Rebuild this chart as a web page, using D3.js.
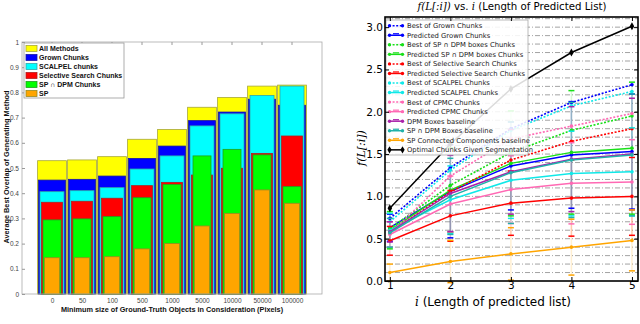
<!DOCTYPE html>
<html lang="en">
<head>
<meta charset="UTF-8">
<title>Chunk overlap / f(L[:i])</title>
<script src="https://d3js.org/d3.v7.min.js"></script>
<style>
    body { margin: 0; background: #fff; }
    svg { display: block; }
    .lft { font-family: 'Liberation Sans', Arial, sans-serif; }
    .mpl { font-family: 'DejaVu Sans', sans-serif; }
    .math { font-family: 'DejaVu Serif', serif; font-style: italic; }
</style>
</head>
<body>
<svg id="chart" width="640" height="324"></svg>
<script>
    // ---------- left chart data (bar groups) ----------
    const sizeLabels = ["0", "50", "100", "500", "1000", "5000", "10000", "50000", "100000"];
    const allMethods = [0.529, 0.532, 0.545, 0.614, 0.653, 0.741, 0.780, 0.825, 0.829];
    const grownChunks = [0.452, 0.455, 0.468, 0.538, 0.587, 0.688, 0.722, 0.773, 0.749];
    const scalpelChunks = [0.406, 0.410, 0.422, 0.496, 0.548, 0.667, 0.715, 0.788, 0.825];
    const selSearchChunks = [0.364, 0.368, 0.380, 0.430, 0.443, 0.472, 0.499, 0.558, 0.627];
    const spDpmChunks = [0.294, 0.298, 0.307, 0.382, 0.435, 0.548, 0.574, 0.552, 0.426];
    const spChunks = [0.144, 0.144, 0.148, 0.179, 0.200, 0.270, 0.320, 0.413, 0.360];
    const barNames = ["All Methods", "Grown Chunks", "SCALPEL chunks", "Selective Search Chunks", "SP \u2229 DPM Chunks", "SP"];
    const leftYTicks = [0, 0.1, 0.2, 0.3, 0.4, 0.5, 0.6, 0.7, 0.8, 0.9, 1];

    // ---------- right chart data (lines) ----------
    const listLength = [1, 2, 3, 4, 5];
    const bestGrown = [0.74, 1.34, 1.80, 2.11, 2.32];
    const predGrown = [0.63, 1.06, 1.36, 1.49, 1.53];
    const errGrown = [0.16, 0.55, 0.52, 0.63, 0.68];
    const bestSpDpm = [0.62, 1.13, 1.52, 1.78, 1.95];
    const predSpDpm = [0.60, 1.075, 1.39, 1.52, 1.57];
    const errSpDpm = [0.22, 0.50, 0.62, 0.73, 0.78];
    const bestSelSearch = [0.58, 1.05, 1.43, 1.65, 1.80];
    const predSelSearch = [0.475, 0.77, 0.92, 0.98, 1.00];
    const errSelSearch = [0.17, 0.30, 0.38, 0.45, 0.46];
    const bestScalpel = [0.70, 1.31, 1.78, 2.07, 2.24];
    const predScalpel = [0.60, 0.96, 1.19, 1.27, 1.29];
    const errScalpel = [0.20, 0.40, 0.45, 0.50, 0.52];
    const bestCpmc = [0.56, 1.24, 1.68, 1.83, 1.98];
    const predCpmc = [0.55, 0.91, 1.08, 1.155, 1.17];
    const errCpmc = [0.15, 0.33, 0.40, 0.48, 0.50];
    const dpmBaseline = [0.58, 1.035, 1.29, 1.44, 1.50];
    const errDpm = [0.12, 0.45, 0.50, 0.62, 0.66];
    const spDpmBaseline = [0.57, 1.00, 1.28, 1.43, 1.49];
    const errSpDpmBase = [0.17, 0.45, 0.60, 0.68, 0.72];
    const spCcBaseline = [0.10, 0.23, 0.32, 0.40, 0.48];
    const errSpCc = [0.10, 0.25, 0.31, 0.33, 0.36];
    const optimalChunks = [0.86, 1.62, 2.27, 2.70, 3.01];
    const rightYTicks = [0, 0.5, 1, 1.5, 2, 2.5, 3];

    const svg = d3.select("#chart");

    // =====================================================
    // Left: overlapping bars
    // =====================================================
    const xL = d3.scaleLinear().domain([0, 10]).range([22, 322]);
    const yL = d3.scaleLinear().domain([0, 1]).range([294, 42]);

    const barColors = ["#ffff00", "#0000ff", "#00ffff", "#ff0000", "#00ff00", "#ffa500"];
    const barEdges = ["#a8a838", "#1818a0", "#30a8a8", "#b02020", "#20a020", "#9a8a20"];
    const barWidths = [0.96, 0.9, 0.8, 0.7, 0.6, 0.5];
    const barValues = [allMethods, grownChunks, scalpelChunks, selSearchChunks, spDpmChunks, spChunks];

    const left = svg.append("g").attr("class", "lft");

    barValues.forEach((vals, s) => {
        left.append("g").selectAll("rect")
            .data(vals)
            .join("rect")
            .attr("x", (d, i) => xL(i + 1 - barWidths[s] / 2))
            .attr("y", d => yL(d))
            .attr("width", xL(barWidths[s]) - xL(0))
            .attr("height", d => yL(0) - yL(d))
            .attr("fill", barColors[s])
            .attr("stroke", barEdges[s])
            .attr("stroke-width", 0.8);
    });

    // box + ticks
    left.append("rect")
        .attr("x", xL(0)).attr("y", yL(1))
        .attr("width", xL(10) - xL(0)).attr("height", yL(0) - yL(1))
        .attr("fill", "none").attr("stroke", "#aaa").attr("stroke-width", 0.8);

    const yAxisL = d3.axisLeft(yL).tickValues(leftYTicks).tickSize(-3).tickPadding(3)
        .tickFormat(d => d === 0 || d === 1 ? d3.format("d")(d) : d3.format(".1f")(d));
    left.append("g")
        .attr("transform", `translate(${xL(0)},0)`)
        .call(yAxisL)
        .call(g => g.select(".domain").remove())
        .call(g => g.selectAll("line").attr("stroke", "#999"))
        .call(g => g.selectAll("text").attr("font-size", 6.5).attr("fill", "#444"));

    const xAxisL = d3.axisBottom(xL).tickValues(d3.range(1, 10)).tickSize(0).tickPadding(4)
        .tickFormat((d, i) => sizeLabels[i]);
    left.append("g")
        .attr("transform", `translate(0,${yL(0)})`)
        .call(xAxisL)
        .call(g => g.select(".domain").remove())
        .call(g => g.selectAll("text").attr("font-size", 6.5).attr("fill", "#444"));

    // top tick marks
    left.append("g").selectAll("line")
        .data(d3.range(1, 10))
        .join("line")
        .attr("x1", d => xL(d)).attr("x2", d => xL(d))
        .attr("y1", yL(1)).attr("y2", yL(1) + 3)
        .attr("stroke", "#999");

    left.append("text")
        .attr("x", 172).attr("y", 312)
        .attr("text-anchor", "middle")
        .attr("font-size", 7.3).attr("font-weight", "bold").attr("fill", "#111")
        .text("Minimum size of Ground-Truth Objects in Consideration (Pixels)");

    left.append("text")
        .attr("transform", "translate(9,167) rotate(-90)")
        .attr("text-anchor", "middle")
        .attr("font-size", 7.3).attr("font-weight", "bold").attr("fill", "#111")
        .text("Average Best Overlap of Generating Method");

    // legend
    const legL = left.append("g");
    legL.append("rect")
        .attr("x", 24).attr("y", 43).attr("width", 100).attr("height", 55)
        .attr("fill", "#fff").attr("stroke", "#999").attr("stroke-width", 0.8);
    barNames.forEach((name, i) => {
        const cy = 48.5 + i * 9;
        legL.append("rect")
            .attr("x", 26).attr("y", cy - 3).attr("width", 11).attr("height", 6)
            .attr("fill", barColors[i]).attr("stroke", barEdges[i]).attr("stroke-width", 0.8);
        legL.append("text")
            .attr("x", 39).attr("y", cy + 2.5)
            .attr("font-size", 7).attr("font-weight", "bold").attr("fill", "#111")
            .text(name);
    });

    // =====================================================
    // Right: f(L[:i]) lines
    // =====================================================
    const xR = d3.scaleLinear().domain([0.92, 5.1]).range([385, 638]);
    const yR = d3.scaleLinear().domain([0, 3.12]).range([281, 17]);

    const C = {
        blue: "#0000ff", green: "#18e018", red: "#ff0000", cyan: "#10e8e8",
        pink: "#ff69b4", purple: "#aa22aa", teal: "#20b2aa", orange: "#ffa500", black: "#000"
    };

    const seriesR = [
        { name: "Best of Grown Chunks", values: bestGrown, color: C.blue, dotted: true },
        { name: "Predicted Grown Chunks", values: predGrown, err: errGrown, color: C.blue },
        { name: "Best of SP \u2229 DPM boxes Chunks", values: bestSpDpm, color: C.green, dotted: true },
        { name: "Predicted SP \u2229 DPM boxes Chunks", values: predSpDpm, err: errSpDpm, color: C.green },
        { name: "Best of Selective Search Chunks", values: bestSelSearch, color: C.red, dotted: true },
        { name: "Predicted Selective Search Chunks", values: predSelSearch, err: errSelSearch, color: C.red },
        { name: "Best of SCALPEL Chunks", values: bestScalpel, color: C.cyan, dotted: true },
        { name: "Predicted SCALPEL Chunks", values: predScalpel, err: errScalpel, color: C.cyan },
        { name: "Best of CPMC Chunks", values: bestCpmc, color: C.pink, dotted: true },
        { name: "Predicted CPMC Chunks", values: predCpmc, err: errCpmc, color: C.pink },
        { name: "DPM Boxes baseline", values: dpmBaseline, err: errDpm, color: C.purple },
        { name: "SP \u2229 DPM Boxes baseline", values: spDpmBaseline, err: errSpDpmBase, color: C.teal },
        { name: "SP Connected Components baseline", values: spCcBaseline, err: errSpCc, color: C.orange },
        { name: "Optimal Chunks Given Segmentation", values: optimalChunks, color: C.black, diamond: true }
    ];

    const right = svg.append("g").attr("class", "mpl");

    // dash-dot grid every 0.1
    right.append("g").selectAll("line")
        .data(d3.range(1, 32).map(d => d / 10))
        .join("line")
        .attr("x1", xR.range()[0]).attr("x2", xR.range()[1])
        .attr("y1", d => yR(d)).attr("y2", d => yR(d))
        .attr("stroke", "#999").attr("stroke-width", 0.9)
        .attr("stroke-dasharray", "5,2,1,2");

    // error bar stems (faint)
    seriesR.filter(s => s.err).forEach(s => {
        right.append("g").selectAll("line")
            .data(listLength)
            .join("line")
            .attr("x1", d => xR(d)).attr("x2", d => xR(d))
            .attr("y1", (d, i) => yR(Math.max(0, s.values[i] - s.err[i])))
            .attr("y2", (d, i) => yR(s.values[i] + s.err[i]))
            .attr("stroke", s.color).attr("stroke-opacity", 0.18).attr("stroke-width", 1.5);
    });

    const line = d3.line().x((d, i) => xR(listLength[i])).y(d => yR(d));

    seriesR.forEach(s => {
        const g = right.append("g");
        g.append("path")
            .attr("d", line(s.values))
            .attr("fill", "none")
            .attr("stroke", s.color)
            .attr("stroke-width", s.dotted ? 1.6 : 1.5)
            .attr("stroke-dasharray", s.dotted ? "2,1.6" : null);

        if (s.err) {
            // caps
            const caps = [];
            s.values.forEach((v, i) => {
                caps.push([listLength[i], v - s.err[i]]);
                caps.push([listLength[i], v + s.err[i]]);
            });
            g.selectAll(".cap")
                .data(caps)
                .join("line")
                .attr("x1", d => xR(d[0]) - 3).attr("x2", d => xR(d[0]) + 3)
                .attr("y1", d => yR(d[1])).attr("y2", d => yR(d[1]))
                .attr("stroke", s.color).attr("stroke-width", 1.5);
        }

        if (s.diamond) {
            g.selectAll("path.mk")
                .data(s.values)
                .join("path")
                .attr("class", "mk")
                .attr("d", d3.symbol(d3.symbolDiamond, 18))
                .attr("transform", (d, i) => `translate(${xR(listLength[i])},${yR(d)})`)
                .attr("fill", s.color);
        } else {
            g.selectAll("circle")
                .data(s.values)
                .join("circle")
                .attr("cx", (d, i) => xR(listLength[i]))
                .attr("cy", d => yR(d))
                .attr("r", 1.8)
                .attr("fill", s.color);
        }
    });

    // legend (semi-transparent like matplotlib)
    const legR = right.append("g");
    legR.append("rect")
        .attr("x", 386).attr("y", 20).attr("width", 142).attr("height", 135)
        .attr("fill", "#fff").attr("fill-opacity", 0.86)
        .attr("stroke", "#aaa").attr("stroke-width", 0.8);
    seriesR.forEach((s, i) => {
        const cy = 25.7 + i * 9.55;
        legR.append("line")
            .attr("x1", 389).attr("x2", 403).attr("y1", cy).attr("y2", cy)
            .attr("stroke", s.color).attr("stroke-width", 1.5)
            .attr("stroke-dasharray", s.dotted ? "2,1.6" : null);
        [389.5, 402.5].forEach(x => {
            if (s.diamond) {
                legR.append("path").attr("d", d3.symbol(d3.symbolDiamond, 16))
                    .attr("transform", `translate(${x},${cy})`).attr("fill", s.color);
            } else {
                legR.append("circle").attr("cx", x).attr("cy", cy).attr("r", 1.7).attr("fill", s.color);
            }
        });
        if (s.err) {
            legR.append("line")
                .attr("x1", 393).attr("x2", 399).attr("y1", cy - 1.5).attr("y2", cy - 1.5)
                .attr("stroke", s.color).attr("stroke-width", 1.2);
        }
        legR.append("text")
            .attr("x", 407).attr("y", cy + 2.4)
            .attr("font-size", 6.8).attr("fill", "#222")
            .text(s.name);
    });

    // frame and ticks
    right.append("rect")
        .attr("x", xR.range()[0]).attr("y", yR.range()[1])
        .attr("width", xR.range()[1] - xR.range()[0])
        .attr("height", yR.range()[0] - yR.range()[1])
        .attr("fill", "none").attr("stroke", "#000").attr("stroke-width", 1.6);

    const yAxisR = d3.axisLeft(yR).tickValues(rightYTicks).tickSize(-4).tickPadding(2)
        .tickFormat(d3.format(".1f"));
    right.append("g")
        .attr("transform", `translate(${xR.range()[0]},0)`)
        .call(yAxisR)
        .call(g => g.select(".domain").remove())
        .call(g => g.selectAll("text").attr("font-size", 10.5).attr("fill", "#000").attr("font-family", "'DejaVu Sans', sans-serif"));
    right.append("g")
        .attr("transform", `translate(${xR.range()[1]},0)`)
        .call(d3.axisRight(yR).tickValues(rightYTicks).tickSize(-4).tickFormat(""))
        .call(g => g.select(".domain").remove());

    const xAxisR = d3.axisBottom(xR).tickValues(listLength).tickSize(-4).tickPadding(1)
        .tickFormat(d3.format("d"));
    right.append("g")
        .attr("transform", `translate(0,${yR.range()[0]})`)
        .call(xAxisR)
        .call(g => g.select(".domain").remove())
        .call(g => g.selectAll("text").attr("font-size", 10.5).attr("fill", "#000").attr("font-family", "'DejaVu Sans', sans-serif"));
    right.append("g")
        .attr("transform", `translate(0,${yR.range()[1]})`)
        .call(d3.axisTop(xR).tickValues(listLength).tickSize(-4).tickFormat(""))
        .call(g => g.select(".domain").remove());

    // title and axis labels
    const title = right.append("text")
        .attr("x", 512).attr("y", 10)
        .attr("text-anchor", "middle").attr("font-size", 10.2).attr("fill", "#000");
    title.append("tspan").attr("class", "math").text("f(L[:i])");
    title.append("tspan").text(" vs. ");
    title.append("tspan").attr("class", "math").text("i");
    title.append("tspan").text(" (Length of Predicted List)");

    const xLab = right.append("text")
        .attr("x", 493).attr("y", 306)
        .attr("text-anchor", "middle").attr("font-size", 12).attr("fill", "#000");
    xLab.append("tspan").attr("class", "math").text("i");
    xLab.append("tspan").text(" (Length of predicted list)");

    right.append("text")
        .attr("class", "math")
        .attr("transform", "translate(365,148) rotate(-90)")
        .attr("text-anchor", "middle").attr("font-size", 11).attr("fill", "#000")
        .text("f(L[:i])");
</script>
</body>
</html>
